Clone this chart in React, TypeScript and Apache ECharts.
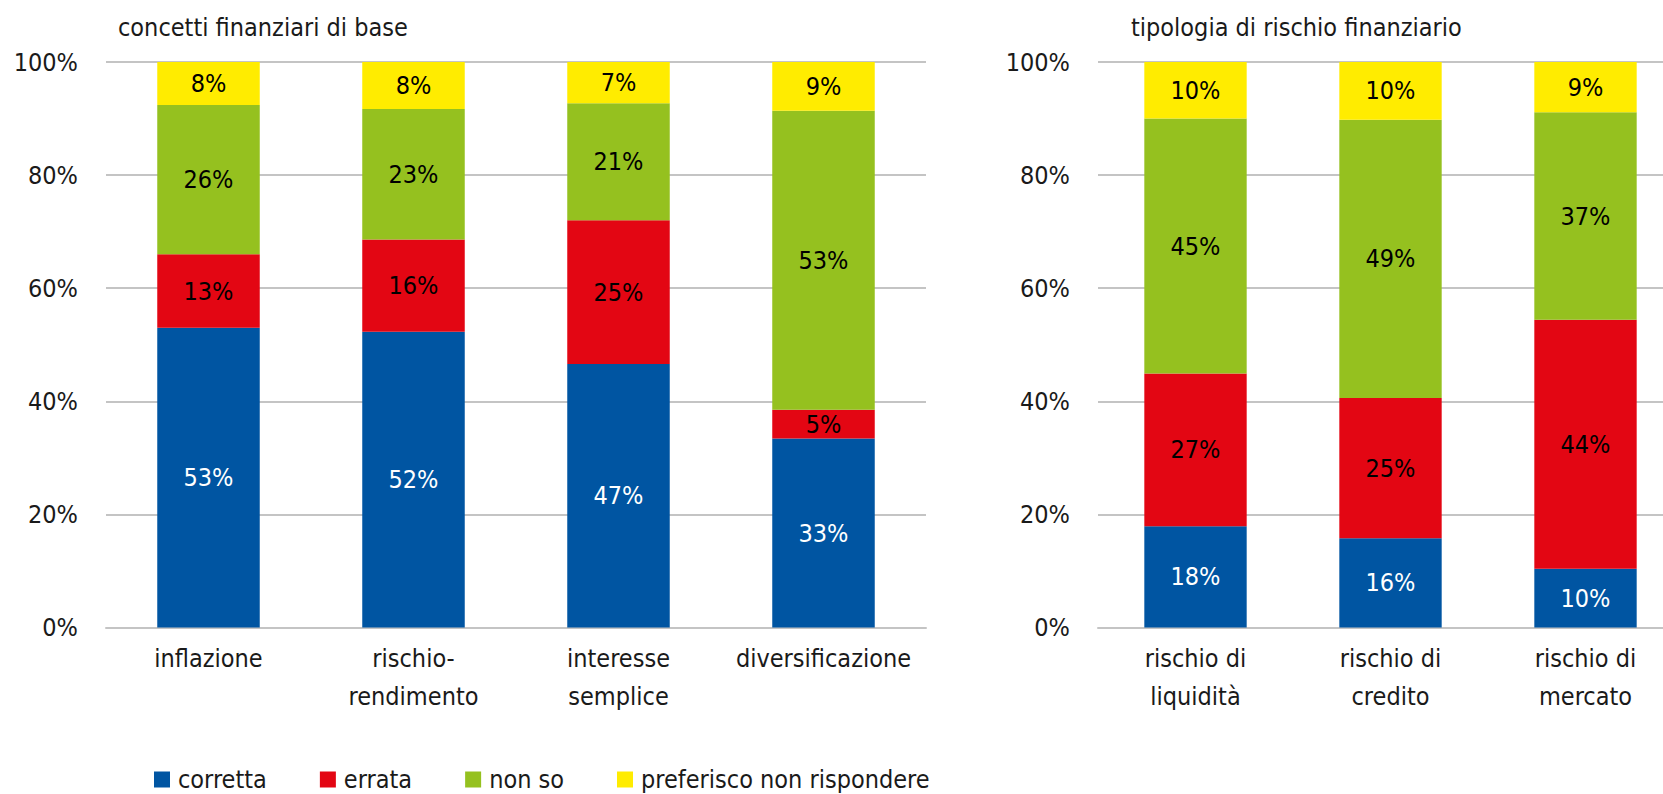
import React, { useEffect, useRef } from "react";
import * as echarts from "echarts";

const seriesNames = ["corretta", "errata", "non so", "preferisco non rispondere"];
const colors = ["#0055A2", "#E30613", "#95C11F", "#FFEC00"];

const leftTitle = "concetti finanziari di base";
const leftCategories = ["inflazione", "rischio-\nrendimento", "interesse\nsemplice", "diversificazione"];
const leftCorretta = [53.0, 52.3, 46.6, 33.4];
const leftErrata = [13.0, 16.3, 25.4, 5.1];
const leftNonSo = [26.4, 23.1, 20.7, 52.9];
const leftPreferisco = [7.6, 8.3, 7.3, 8.6];

const rightTitle = "tipologia di rischio finanziario";
const rightCategories = ["rischio di\nliquidità", "rischio di\ncredito", "rischio di\nmercato"];
const rightCorretta = [17.9, 15.8, 10.4];
const rightErrata = [27.0, 24.8, 44.0];
const rightNonSo = [45.1, 49.2, 36.7];
const rightPreferisco = [10.0, 10.2, 8.9];

const yTicks = { min: 0, max: 100, interval: 20 };

const FONT = "'DejaVu Sans Condensed', 'DejaVu Sans', sans-serif";
const TEXT = "#1a1a1a";
const GRID_COLOR = "#C4C4C4";

export default function App() {
  const ref = useRef<HTMLDivElement>(null);

  useEffect(() => {
    if (!ref.current) return;
    const chart = echarts.init(ref.current, undefined, { renderer: "svg" });

    const leftData = [leftCorretta, leftErrata, leftNonSo, leftPreferisco];
    const rightData = [rightCorretta, rightErrata, rightNonSo, rightPreferisco];

    const mkSeries = (data: number[][], idx: number, stack: string, width: string) =>
      data.map((vals, i) => ({
        name: seriesNames[i],
        type: "bar",
        stack,
        xAxisIndex: idx,
        yAxisIndex: idx,
        barWidth: width,
        data: vals,
        itemStyle: { color: colors[i] },
        label: {
          show: true,
          position: "inside",
          fontFamily: FONT,
          fontSize: 25,
          color: i === 0 ? "#ffffff" : "#000000",
          formatter: (p: any) => Math.round(p.value) + "%",
        },
      }));

    const yAxis = (idx: number) => ({
      type: "value",
      gridIndex: idx,
      min: yTicks.min,
      max: yTicks.max,
      interval: yTicks.interval,
      axisLine: { show: false },
      axisTick: { show: false },
      splitLine: { show: true, lineStyle: { color: GRID_COLOR, width: 2 } },
      axisLabel: {
        formatter: "{value}%",
        fontFamily: FONT,
        fontSize: 25,
        color: TEXT,
        margin: 28,
      },
    });

    const xAxis = (idx: number, cats: string[]) => ({
      type: "category",
      gridIndex: idx,
      data: cats,
      axisLine: { show: true, lineStyle: { color: GRID_COLOR, width: 2 } },
      axisTick: { show: false },
      axisLabel: {
        interval: 0,
        fontFamily: FONT,
        fontSize: 25,
        lineHeight: 38,
        color: TEXT,
        margin: 12,
      },
    });

    chart.setOption({
      animation: false,
      backgroundColor: "#ffffff",
      title: [
        {
          text: leftTitle,
          left: 118,
          top: 15,
          padding: 0,
          textStyle: { fontFamily: FONT, fontSize: 25, fontWeight: "normal", color: TEXT },
        },
        {
          text: rightTitle,
          left: 1131,
          top: 15,
          padding: 0,
          textStyle: { fontFamily: FONT, fontSize: 25, fontWeight: "normal", color: TEXT },
        },
      ],
      legend: {
        data: seriesNames,
        left: 154,
        top: 767,
        padding: 0,
        icon: "rect",
        itemWidth: 16,
        itemHeight: 16,
        itemGap: 53,
        textStyle: { fontFamily: FONT, fontSize: 25, color: TEXT, padding: [0, 0, 0, 3] },
      },
      grid: [
        { left: 106, top: 62, width: 820, height: 565.5 },
        { left: 1098, top: 62, width: 585, height: 565.5 },
      ],
      xAxis: [xAxis(0, leftCategories), xAxis(1, rightCategories)],
      yAxis: [yAxis(0), yAxis(1)],
      series: [...mkSeries(leftData, 0, "left", "50%"), ...mkSeries(rightData, 1, "right", "52.5%")],
    });

    return () => chart.dispose();
  }, []);

  return (
    <div
      style={{
        position: "absolute",
        left: 0,
        top: 0,
        width: 1663,
        height: 794,
        overflow: "hidden",
        background: "#ffffff",
      }}
    >
      <div ref={ref} style={{ width: 1720, height: 794 }} />
    </div>
  );
}
